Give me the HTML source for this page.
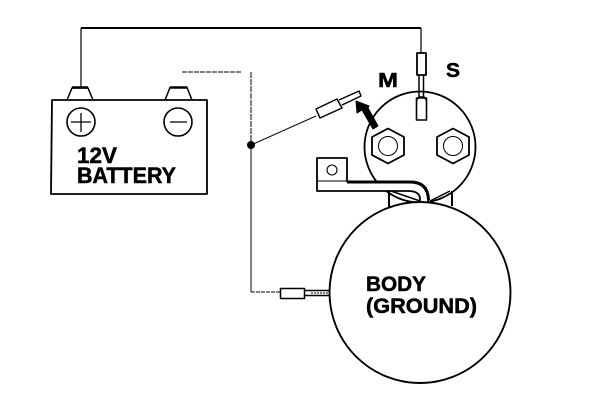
<!DOCTYPE html>
<html>
<head>
<meta charset="utf-8">
<style>
html,body{margin:0;padding:0;background:#fff;width:608px;height:410px;overflow:hidden}
svg{display:block}
text{font-family:"Liberation Sans",sans-serif;font-weight:bold;fill:#000;stroke:#000;stroke-width:.5}
</style>
</head>
<body>
<svg width="608" height="410" viewBox="0 0 608 410" fill="none" stroke="#000" stroke-linejoin="round">
<rect width="608" height="410" fill="#fff" stroke="none"/>
<!-- top wire -->
<path d="M81 28H421" stroke-width="2"/>
<path d="M81 28V87M421 28V53" stroke-width="1.2"/>
<!-- battery -->
<path d="M52 100H207V194H51Z" stroke-width="1.8"/>
<path d="M67 100L72 88H88L93 100" stroke-width="1.5"/>
<path d="M72 87.500H88" stroke-width="2.500"/>
<path d="M165 100L170 87.500H187L192 100" stroke-width="1.5"/>
<path d="M170 87.500H187" stroke-width="2.500"/>
<circle cx="81" cy="122" r="14" stroke-width="1.600"/>
<circle cx="178" cy="122" r="14" stroke-width="1.600"/>
<path d="M71 122H91M81 113V132M170 122H187" stroke-width="1.300"/>
<text x="77" y="163" font-size="22" textLength="40" lengthAdjust="spacingAndGlyphs">12V</text>
<text x="77" y="183" font-size="22" textLength="99" lengthAdjust="spacingAndGlyphs">BATTERY</text>
<!-- dotted wire -->
<path d="M182 72H242" stroke-width="1" stroke-dasharray="5 1"/>
<path d="M251 72V145" stroke-width="1" stroke-dasharray="6 1"/>
<path d="M251 145V292" stroke-width="1"/>
<path d="M251 292H280" stroke-width="1" stroke-dasharray="4 1"/>
<circle cx="251" cy="145" r="4" fill="#000" stroke="none"/>
<path d="M251 145L316 116" stroke-width="1"/>
<!-- disconnected connector -->
<path d="M316 109L337 99L342 108L320 118Z" stroke-width="1.500" fill="#fff"/>
<path d="M339 100L359 91L361 96L342 105" stroke-width="1.500" fill="#fff"/>
<!-- solenoid -->
<circle cx="420" cy="147" r="55.500" stroke-width="1.800"/>
<!-- S connector -->
<rect x="417" y="53" width="9" height="22" stroke-width="1.800" fill="#fff"/>
<rect x="416.500" y="98" width="10" height="22" stroke-width="1.600" fill="#fff"/>
<path d="M419 75V98M423.500 75V98" stroke-width="1.500"/>
<path d="M416.500 100L419 97H424L426.500 100" stroke-width="1.500"/>
<!-- hex bolts -->
<path d="M388 128.500L404 137V155L388 163.500L372 155V137Z" stroke-width="1.800" fill="#fff"/>
<circle cx="388" cy="146" r="9.500" stroke-width="1"/>
<path d="M453 128.500L469 137V155L453 163.500L437 155V137Z" stroke-width="1.800"/>
<circle cx="453" cy="146" r="9.500" stroke-width="1"/>
<!-- arrow -->
<path d="M356 101L357 113L362 110L373 129L378 126L368 108L369 106Z" fill="#000" stroke="#000" stroke-width="1"/>
<!-- bracket -->
<path d="M347 181.500H410Q428 181.500 428 197V203H420V199Q420 191 408 191H317V158H347V181.500Z" fill="#fff" stroke-width="1.800"/>
<path d="M347 182H410Q428 182 428.500 200" stroke-width="3"/>
<path d="M317 181H347" stroke-width="1"/>
<circle cx="332" cy="170" r="5" stroke-width="1.100"/>
<!-- feet -->
<path d="M389 191V208M452 191V206" stroke-width="2"/>
<path d="M391 191L420 201M450 191L430 201" stroke-width="1.500"/>
<!-- body -->
<circle cx="420" cy="292.500" r="90.500" fill="#fff" stroke-width="1.900"/>
<!-- ground connector -->
<rect x="280.500" y="288.500" width="24" height="10" stroke-width="1.500" fill="#fff"/>
<path d="M305 290.500H329M305 295.500H329" stroke-width="1.600"/>
<path d="M311 293H328" stroke-width="1" stroke-dasharray="2 1"/>
<!-- labels -->
<text x="378" y="87" font-size="20" textLength="20" lengthAdjust="spacingAndGlyphs">M</text>
<text x="446" y="77" font-size="20" textLength="14" lengthAdjust="spacingAndGlyphs">S</text>
<text x="366" y="291" font-size="21" textLength="60" lengthAdjust="spacingAndGlyphs">BODY</text>
<text x="366" y="313" font-size="21" textLength="111" lengthAdjust="spacingAndGlyphs">(GROUND)</text>
</svg>
</body>
</html>
